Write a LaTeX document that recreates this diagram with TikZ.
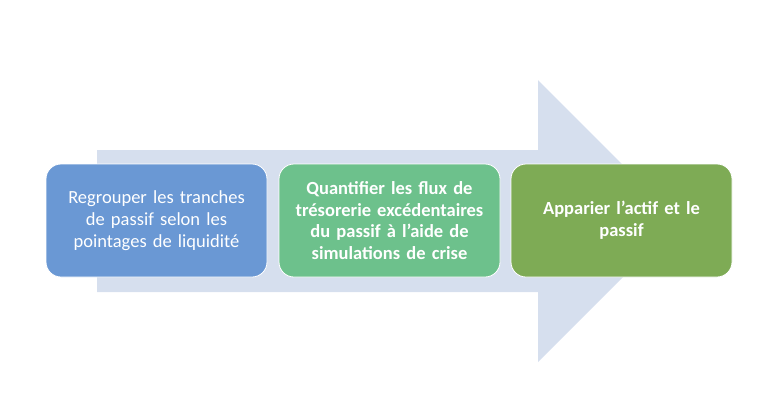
\documentclass[tikz,border=0pt]{standalone}
\usepackage{fontspec}
\setmainfont{Carlito}
\definecolor{arrowbg}{HTML}{D6DFEE}
\definecolor{stepblue}{HTML}{6A98D4}
\definecolor{stepteal}{HTML}{6DC18C}
\definecolor{stepgreen}{HTML}{7EAB55}
\tikzset{
  stepbox/.style={draw=white, line width=0.8pt, rounded corners=15pt,
    minimum width=221pt, minimum height=113pt, text width=210pt,
    align=center, text=white, font=\fontsize{18.5}{21.7}\selectfont},
}
\begin{document}
\begin{tikzpicture}[x=1pt,y=-1pt]
      \useasboundingbox (0,0) rectangle (772,400);
      \fill[arrowbg] (97,150) -- (538,150) -- (538,80) -- (679,221)
        -- (538,362) -- (538,292) -- (97,292) -- cycle;
      \draw
        (156.5,220.5) node[stepbox, fill=stepblue] (regrouper)
          {Regrouper les tranches\\de passif selon les\\pointages de liquidité}
        (389.5,220.5) node[stepbox, fill=stepteal, font=\fontsize{18.5}{21.7}\selectfont\bfseries] (quantifier)
          {Quantifier les flux de\\trésorerie excédentaires\\du passif à l’aide de\\simulations de crise}
        (621.5,220.5) node[stepbox, fill=stepgreen, font=\fontsize{18.5}{21.7}\selectfont\bfseries] (apparier)
          {Apparier l’actif et le\\passif};
    \end{tikzpicture}
\end{document}
